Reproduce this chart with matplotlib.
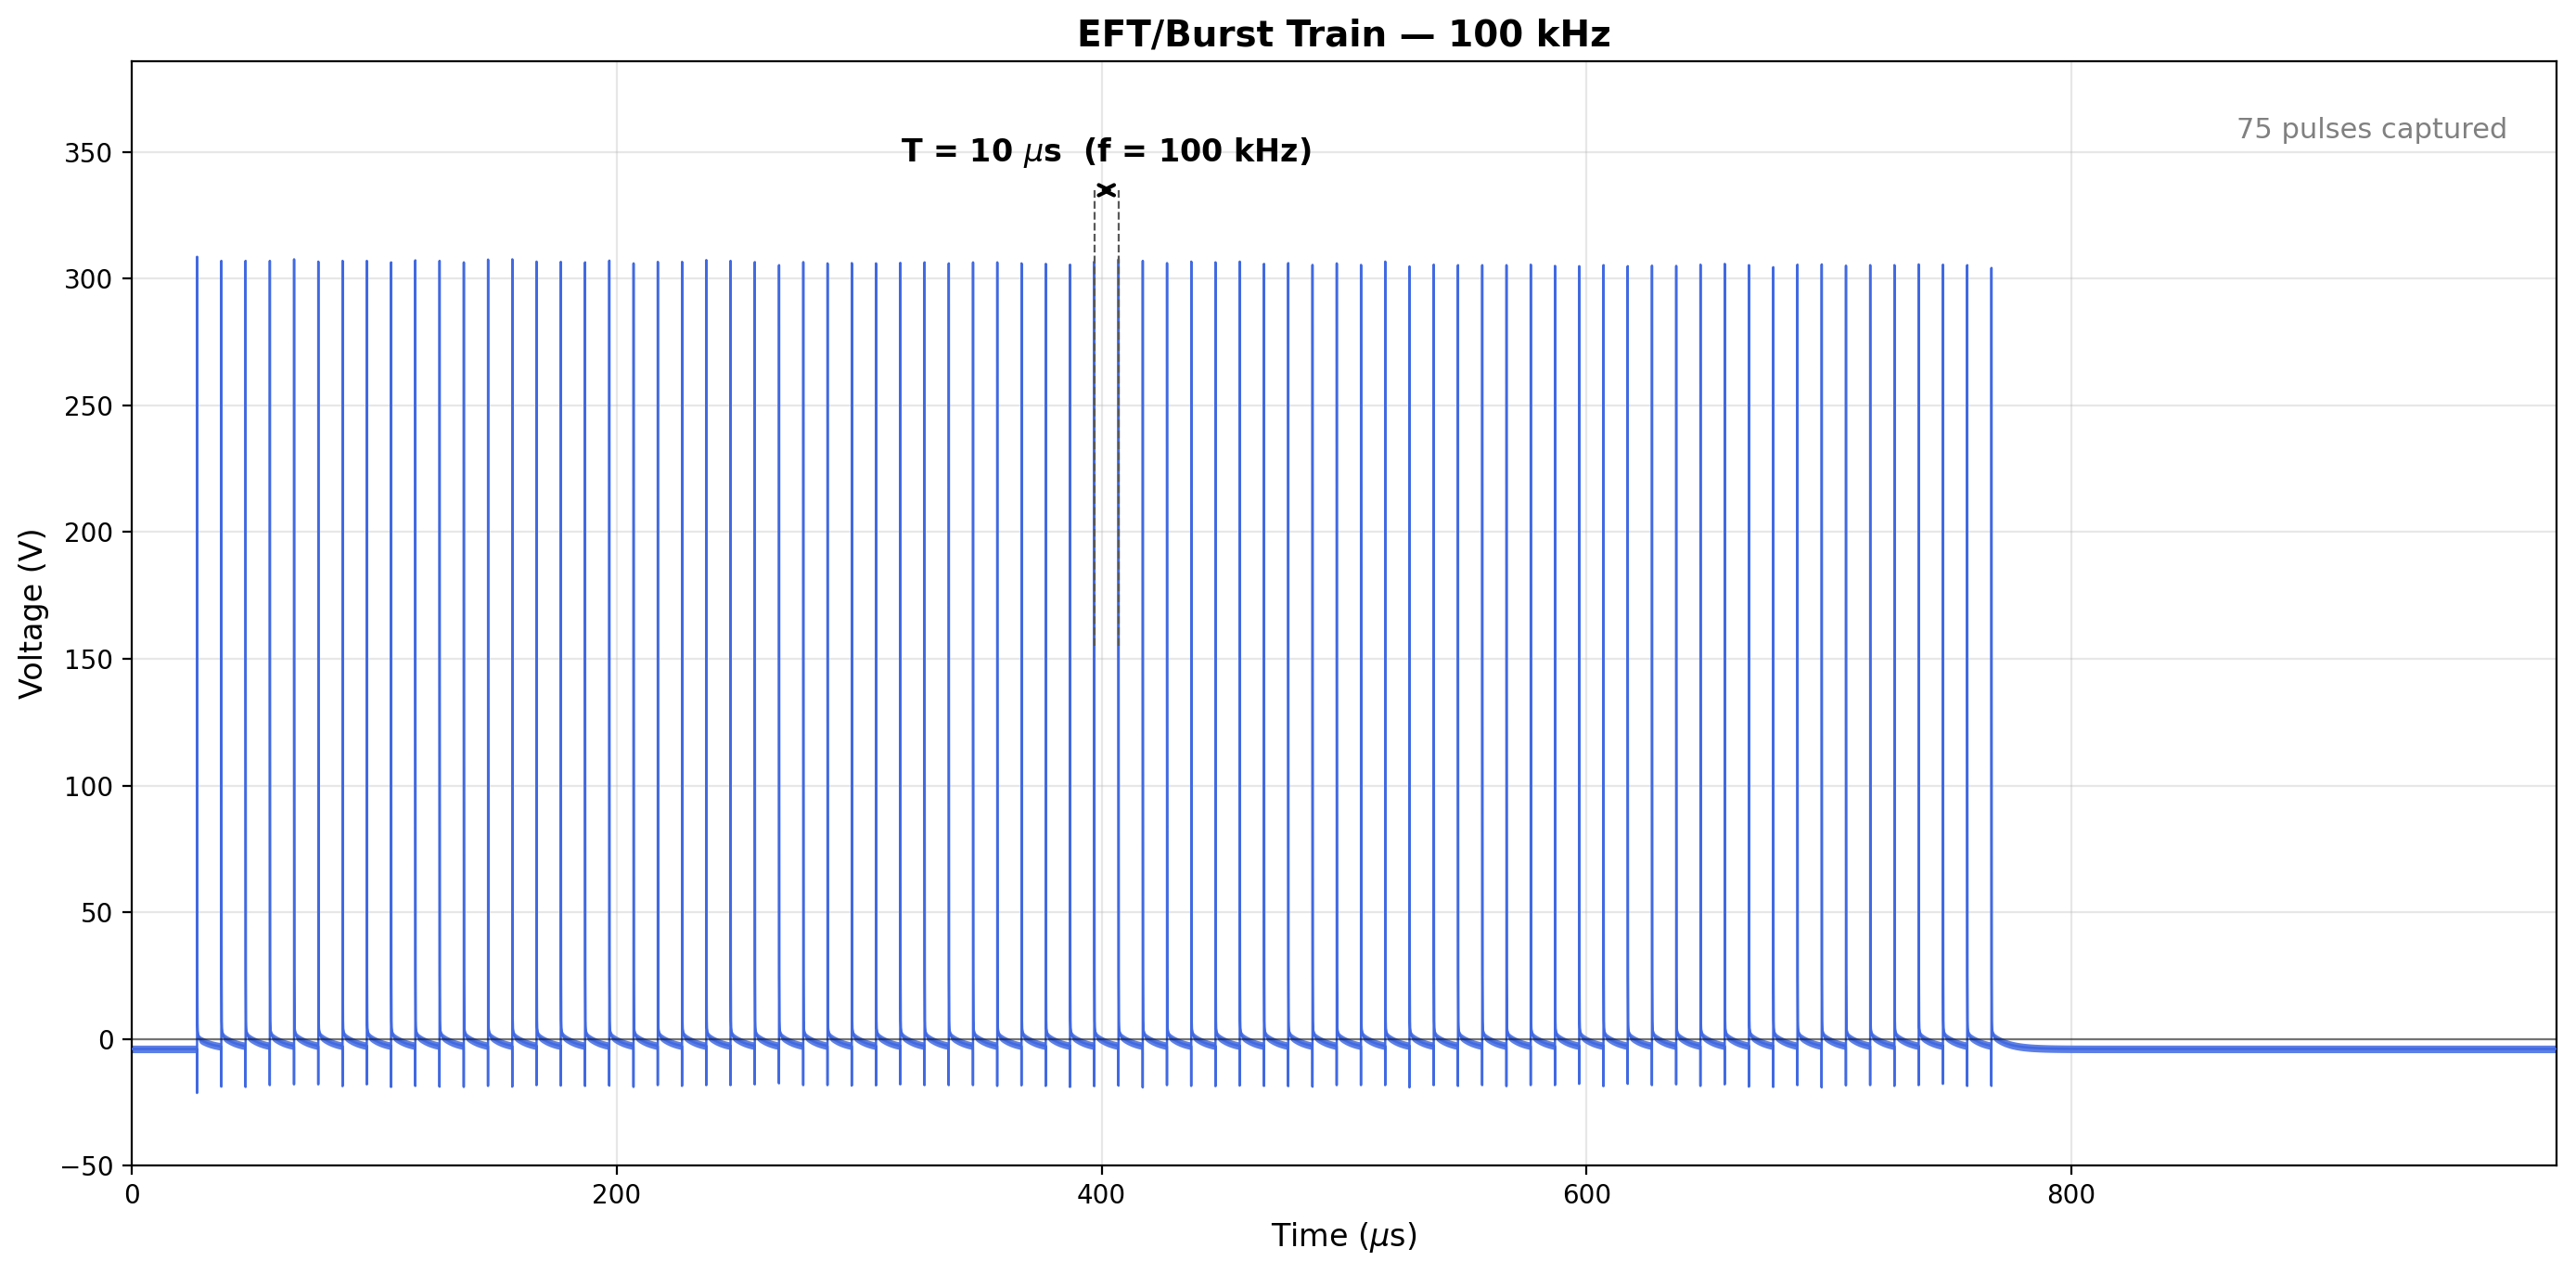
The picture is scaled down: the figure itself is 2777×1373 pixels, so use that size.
import numpy as np
import matplotlib
matplotlib.use("Agg")
import matplotlib.pyplot as plt

# ---------------- data ----------------
period_us = 10.0
first_pulse_us = 27.0
n_pulses = 75
pulse_times = [first_pulse_us + period_us * k for k in range(n_pulses)]

peak_volts = [
    308.7, 307.1, 307.1, 307.1, 307.7, 306.8, 307.1, 307.1, 306.5, 307.3,
    307.1, 306.5, 307.6, 307.7, 306.8, 306.7, 306.5, 307.2, 306.1, 306.7,
    306.7, 307.4, 307.1, 306.6, 305.4,
    306.6, 306.1, 306.2, 306.1, 306.3, 306.5, 306.1, 306.5, 306.5, 306.1,
    305.9, 305.6, 306.8, 307.7, 307.1, 306.2, 306.8, 306.5, 306.8, 305.9,
    306.2, 305.5, 306.1, 305.5, 306.8,
    304.9, 305.6, 305.4, 305.4, 305.4, 305.6, 305.1, 305.0, 305.4, 305.0,
    305.2, 305.1, 305.6, 305.9, 305.4, 304.6, 305.6, 305.7, 305.2, 305.4,
    305.4, 305.7, 305.6, 305.4, 304.3,
]
trough_volts = [
    -22.9, -20.4, -20.5, -19.8, -19.5, -19.5, -20.2, -19.5, -20.5, -20.1,
    -20.4, -20.5, -20.1, -20.4, -19.8, -20.0, -20.1, -20.0, -20.5, -19.8,
    -20.1, -19.8, -19.8, -19.5, -19.1,
    -19.8, -19.8, -20.0, -19.9, -19.5, -19.8, -19.8, -19.8, -20.1, -19.9,
    -20.1, -20.5, -20.2, -20.0, -20.7, -19.8, -20.1, -20.2, -20.0, -20.1,
    -20.2, -20.4, -19.8, -19.8, -19.8,
    -20.7, -19.8, -20.1, -19.8, -20.2, -19.8, -19.8, -19.3, -20.2, -19.3,
    -19.8, -19.5, -20.1, -19.5, -20.4, -20.5, -19.8, -20.7, -19.9, -19.8,
    -20.1, -19.8, -19.3, -20.1, -20.1,
]
baseline_v = -4.0          # idle level before/after the burst
tail_amp_v = 4.4           # slow recovery tail after each pulse
tail_tau_us = 6.5
mid_amp_v = 6.0
mid_tau_us = 0.3
noise_halfwidth_v = 1.5    # visible thickness of the noisy trace

marker_t0, marker_t1 = 397.0, 407.0
marker_ylo, marker_yhi = 155.0, 335.0

# ---------------- waveform model from pulse parameters ----------------
dt = 0.01
t = np.arange(0.0, 1000.0, dt)

# slow part (recovery tails)
v = np.full_like(t, baseline_v)
for tk in pulse_times:
    d = t - tk
    dp = np.clip(d, 0, None)
    v += np.where(d >= -dt / 2, mid_amp_v * np.exp(-dp / mid_tau_us)
                  + tail_amp_v * np.exp(-dp / tail_tau_us), 0.0)

# fast spikes, scaled so the drawn extremes hit the read values
spikes = np.zeros_like(t)
for tk, pk, nk in zip(pulse_times, peak_volts, trough_volts):
    i0 = int(round(tk / dt))
    d = t - t[i0]
    dp = np.clip(d, 0, None)
    amp_up = pk - v[i0]
    spikes += np.where(d >= 0, amp_up * np.exp(-dp / 0.04), 0.0)
    i1 = i0 - 3
    amp_dn = nk - v[i1] + noise_halfwidth_v
    dip = np.exp(-np.abs(t - t[i1]) / 0.012)
    spikes += np.where((d < 0) & (d > -0.2), amp_dn * dip, 0.0)
v = v + spikes

# ---------------- figure ----------------
fig = plt.figure(figsize=(13.885, 6.865), dpi=200)
ax = fig.add_axes([0.0511, 0.0852, 0.9413, 0.8667])

col = "royalblue"
ax.fill_between(t, v - noise_halfwidth_v, v + noise_halfwidth_v,
                color=col, alpha=0.85, lw=0, zorder=2)
ax.plot(t, v, color=col, lw=0.9, zorder=3)
ax.axhline(0, color="black", lw=0.8, alpha=0.5, zorder=4)

ax.vlines([marker_t0, marker_t1], marker_ylo, marker_yhi,
          colors="0.35", linestyles="--", lw=0.8, zorder=5)
ax.annotate("", xy=(marker_t0, marker_yhi), xytext=(marker_t1, marker_yhi),
            arrowprops=dict(arrowstyle="<->", color="black", lw=1.5), zorder=6)
ax.text((marker_t0 + marker_t1) / 2, marker_yhi + 8,
        r"T = 10 $\mu$s  (f = 100 kHz)", ha="center", va="bottom",
        fontsize=12, fontweight="bold")

ax.text(0.98, 0.95, f"{n_pulses} pulses captured", transform=ax.transAxes,
        ha="right", va="top", fontsize=11, color="gray")

ax.set_xlim(0, 999.99)
ax.set_ylim(-50, max(peak_volts) * 1.25)
ax.grid(True, alpha=0.3)
ax.set_xlabel(r"Time ($\mu$s)", fontsize=12)
ax.set_ylabel("Voltage (V)", fontsize=12)
ax.set_title("EFT/Burst Train — 100 kHz", fontsize=14, fontweight="bold")

fig.savefig("out.png", dpi=200)
